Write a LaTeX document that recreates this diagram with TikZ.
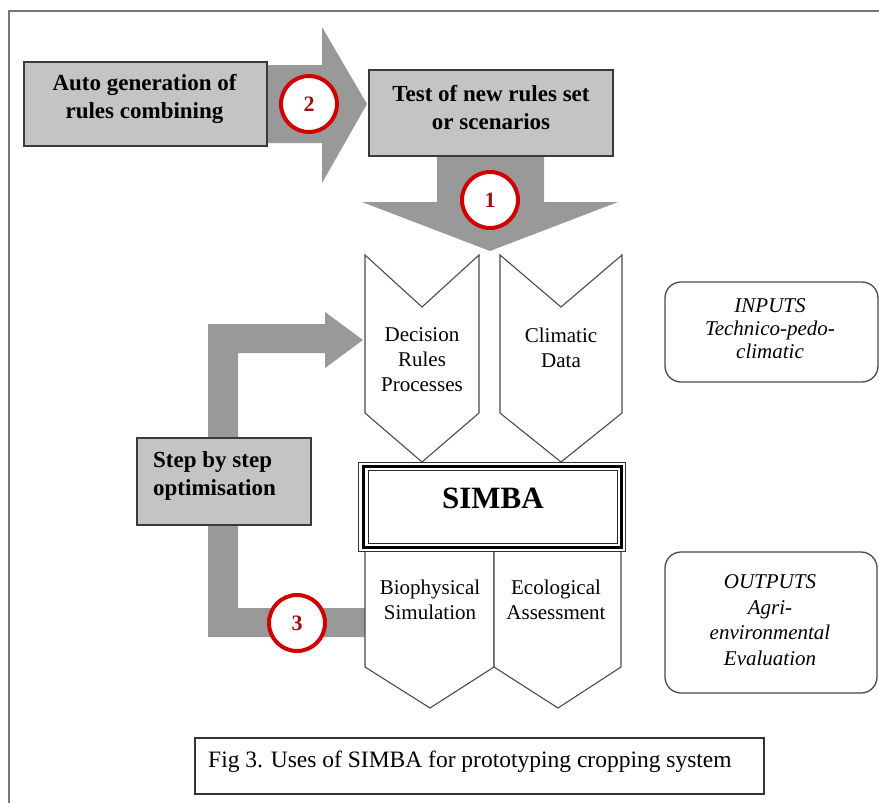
\documentclass[tikz,border=0pt]{standalone}
\usepackage{fontspec}
\setmainfont{Liberation Serif}
\definecolor{boxgray}{HTML}{C4C4C4}
\definecolor{boxline}{HTML}{3A3A3A}
\definecolor{arrowgray}{HTML}{999999}
\definecolor{chevline}{HTML}{4A4A4A}
\definecolor{ringred}{HTML}{D00000}
\definecolor{numred}{HTML}{9A1010}
\definecolor{framegray}{HTML}{777777}
\begin{document}
\begin{tikzpicture}[x=1pt,y=-1pt,
 graybox/.style={draw=boxline, line width=1.6pt, fill=boxgray, inner sep=0pt},
 boldtxt/.style={font=\fontsize{23}{28}\selectfont\bfseries, align=center, inner sep=0pt},
 plaintxt/.style={font=\fontsize{21}{25}\selectfont, align=center, inner sep=0pt},
 itxt/.style={font=\fontsize{21}{23}\selectfont\itshape, align=center, inner sep=0pt},
 blockarrow/.style={fill=arrowgray, draw=none},
 chev/.style={draw=chevline, line width=1.1pt, fill=white, line join=miter},
 ring/.style={circle, draw=ringred, line width=4pt, fill=white, minimum size=56pt, inner sep=0pt, font=\fontsize{22}{22}\selectfont\bfseries, text=numred},
 roundbox/.style={draw=chevline, line width=1.3pt, rounded corners=16pt}
]
\useasboundingbox (0,0) rectangle (879,803);
\fill[white] (0,0) rectangle (879,803);
% outer frame (clipped at right and bottom)
\begin{scope}
\clip (0,0) rectangle (879,803);
\draw[framegray, line width=2pt] (9,11) rectangle (900,830);
\end{scope}

% ---- block arrow 2 (Auto -> Test)
\fill[blockarrow] (250,65) -- (322,65) -- (322,27) -- (367,104) -- (322,183) -- (322,143) -- (250,143) -- cycle;
% ---- block arrow 1 (Test -> inputs)
\fill[blockarrow] (437,150) -- (544,150) -- (544,202) -- (618,202) -- (490,251) -- (362,202) -- (437,202) -- cycle;
% ---- step-by-step loop arrow
\fill[blockarrow] (365,637) -- (208,637) -- (208,324) -- (325,324) -- (325,312) -- (363,340) -- (325,368) -- (325,353) -- (238,353) -- (238,608) -- (365,608) -- cycle;

% ---- gray boxes
\node[graybox, minimum width=243pt, minimum height=84pt] (auto) at (145.5,104) {};
\node[boldtxt] (autotxt) at (144.5,98.5) {Auto generation of\\rules combining};
\node[graybox, minimum width=244pt, minimum height=86pt] (test) at (491,113) {};
\node[boldtxt] (testtxt) at (491,107.5) {Test of new rules set\\or scenarios};
\node[graybox, minimum width=174pt, minimum height=87pt] (step) at (224,481.5) {};
\node[boldtxt, align=left, anchor=west] (steptxt) at (153,476) {Step by step\\optimisation};

% ---- input chevrons
\draw[chev] (365,255) -- (422,307) -- (479,255) -- (479,413) -- (422,462) -- (365,413) -- cycle;
\node[plaintxt] (decision) at (422,360) {Decision\\Rules\\Processes};
\draw[chev] (500,255) -- (561,307) -- (622,255) -- (622,413) -- (561,462) -- (500,413) -- cycle;
\node[plaintxt] (climatic) at (561,348) {Climatic\\Data};

% ---- output chevrons
\draw[chev] (365,551) -- (494,551) -- (494,667) -- (430,708) -- (365,667) -- cycle;
\draw[chev] (494,551) -- (621,551) -- (621,667) -- (558,708) -- (494,667) -- cycle;
\node[plaintxt] (bio) at (430,600) {Biophysical\\Simulation};
\node[plaintxt] (eco) at (556,600) {Ecological\\Assessment};

% ---- SIMBA box (thin-thick-thin)
\draw[fill=white, draw=black!80, line width=1pt] (358,462) rectangle (625,551);
\draw[black, line width=3pt] (363,466) rectangle (621,547);
\draw[black!85, line width=1pt] (368,470) rectangle (617,543);
\node[font=\fontsize{31}{31}\selectfont\bfseries, inner sep=0pt] (simba) at (493,498) {SIMBA};

% ---- numbered rings
\node[ring] (r2) at (309,104) {2};
\node[ring] (r1) at (490,200) {1};
\node[ring] (r3) at (297,623) {3};

% ---- side boxes
\draw[roundbox] (665,282) rectangle (878,382);
\node[itxt] (inputs) at (770,329) {INPUTS\\Technico-pedo-\\climatic};
\draw[roundbox] (665,552) rectangle (877,693);
\node[itxt, font=\fontsize{21}{25.5}\selectfont\itshape] (outputs) at (770,620) {OUTPUTS\\Agri-\\environmental\\Evaluation};

% ---- caption
\draw[black!80, line width=1.3pt] (195,738) rectangle (764,794);
\node[font=\fontsize{23.5}{26}\selectfont, anchor=west, inner sep=0pt] (caption) at (208,762) {Fig 3. Uses of SIMBA for prototyping cropping system};
\end{tikzpicture}
\end{document}
